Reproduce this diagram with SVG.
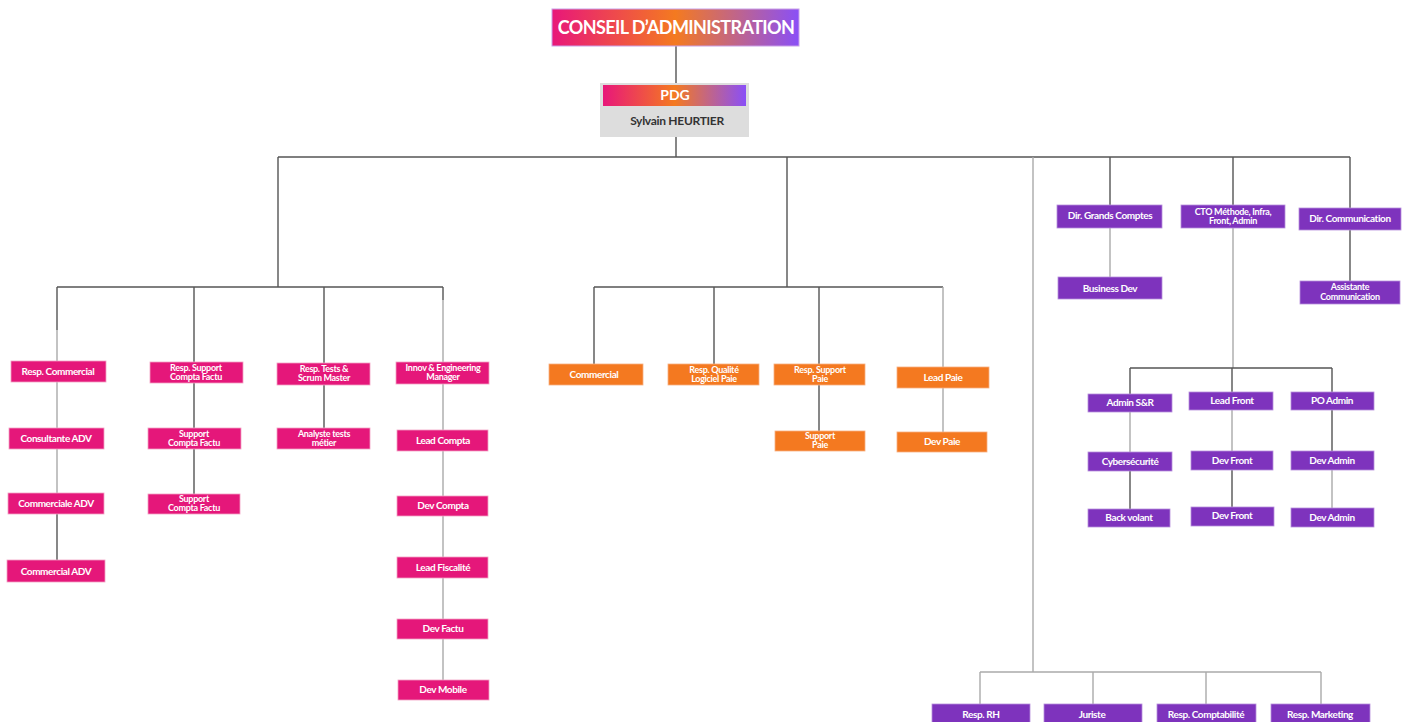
<svg xmlns="http://www.w3.org/2000/svg" width="1410" height="722" viewBox="0 0 1410 722">
<defs>
<linearGradient id="grad" x1="0" y1="0" x2="1" y2="0">
<stop offset="0" stop-color="#e8177a"/>
<stop offset="0.5" stop-color="#f47a20"/>
<stop offset="1" stop-color="#8a4ff7"/>
</linearGradient>
<style>
.pk{fill:#e5177a;stroke:#f3a0c4;stroke-width:0.8}
.or{fill:#f47920;stroke:#f8b080;stroke-width:0.8}
.pu{fill:#7e33bd;stroke:#b790dc;stroke-width:0.8}
text{font-family:Lato,"Liberation Sans",sans-serif;font-weight:bold;text-anchor:middle}
.t{fill:#ffffff;font-size:10px;letter-spacing:-0.4px}
.t2{fill:#ffffff;font-size:9px;letter-spacing:-0.3px}
.d{stroke:#555555;stroke-width:1.4;fill:none}
.l{stroke:#aaaaaa;stroke-width:1.4;fill:none}
</style>
</defs>
<rect width="1410" height="722" fill="#ffffff"/>
<g id="connectors">
<path class="d" d="M676 46V83M676 137V157M278 157H1350M278 157V287M787 157V287M1110 157V206M1233 157V206M1350 157V208"/>
<path class="l" d="M1033 157V672"/>
<path class="d" d="M57 287H443M57 287V330M194 287V494M324 287V428M443 287V300"/>
<path class="l" d="M57 330V493M443 300V680"/>
<path class="d" d="M57 514V560"/>
<path class="d" d="M594 287H943M594 287V364M714 287V364M819 287V431"/>
<path class="l" d="M943 287V432"/>
<path class="l" d="M1110 228V277"/>
<path class="d" d="M1350 230V281"/>
<path class="l" d="M1233 228V368"/>
<path class="d" d="M1130 368H1332M1130 368V394M1232 368V392M1332 368V451"/>
<path class="l" d="M1130 412V452M1232 410V451M1332 470V508"/>
<path class="d" d="M1130 471V509M1232 470V507"/>
<path class="l" d="M980 672H1321M980 672V704M1093 672V704M1206 672V704M1321 672V704"/>
</g>
<g id="conseil">
<rect x="552" y="9" width="247" height="37" fill="url(#grad)" stroke="#c9a0e8" stroke-width="1"/>
<text x="676" y="34" fill="#ffffff" font-size="18" letter-spacing="-0.6">CONSEIL D’ADMINISTRATION</text>
</g>
<g id="pdg">
<rect x="600" y="83" width="149" height="54" fill="#dddddd"/>
<rect x="603" y="85" width="143" height="21" fill="url(#grad)"/>
<text x="675" y="100" fill="#ffffff" font-size="14">PDG</text>
<text x="677" y="125" fill="#333333" font-size="12" letter-spacing="-0.3">Sylvain HEURTIER</text>
</g>
<g id="resp-commercial"><rect class="pk" x="11" y="361" width="95" height="21"/><text class="t" x="58" y="375">Resp. Commercial</text></g>
<g id="consultante-adv"><rect class="pk" x="9" y="428" width="95" height="21"/><text class="t" x="56" y="442">Consultante ADV</text></g>
<g id="commerciale-adv"><rect class="pk" x="8" y="493" width="96" height="21"/><text class="t" x="56" y="507">Commerciale ADV</text></g>
<g id="commercial-adv"><rect class="pk" x="7" y="560" width="98" height="22"/><text class="t" x="56" y="575">Commercial ADV</text></g>
<g id="resp-support-compta"><rect class="pk" x="150" y="362" width="93" height="21"/><text class="t2" x="196" y="371">Resp. Support</text><text class="t2" x="196" y="380">Compta Factu</text></g>
<g id="support-compta-1"><rect class="pk" x="148" y="428" width="93" height="21"/><text class="t2" x="194" y="437">Support</text><text class="t2" x="194" y="446">Compta Factu</text></g>
<g id="support-compta-2"><rect class="pk" x="148" y="494" width="92" height="20"/><text class="t2" x="194" y="502">Support</text><text class="t2" x="194" y="511">Compta Factu</text></g>
<g id="resp-tests"><rect class="pk" x="277" y="363" width="93" height="22"/><text class="t2" x="324" y="372">Resp. Tests  &amp;</text><text class="t2" x="324" y="381">Scrum Master</text></g>
<g id="analyste-tests"><rect class="pk" x="277" y="428" width="93" height="21"/><text class="t2" x="324" y="437">Analyste tests</text><text class="t2" x="324" y="446">métier</text></g>
<g id="innov-manager"><rect class="pk" x="396" y="362" width="93" height="22"/><text class="t2" x="443" y="371">Innov &amp; Engineering</text><text class="t2" x="443" y="380">Manager</text></g>
<g id="lead-compta"><rect class="pk" x="397" y="430" width="91" height="21"/><text class="t" x="443" y="444">Lead Compta</text></g>
<g id="dev-compta"><rect class="pk" x="397" y="496" width="91" height="20"/><text class="t" x="443" y="509">Dev Compta</text></g>
<g id="lead-fiscalite"><rect class="pk" x="397" y="557" width="91" height="21"/><text class="t" x="443" y="571">Lead Fiscalité</text></g>
<g id="dev-factu"><rect class="pk" x="397" y="619" width="91" height="20"/><text class="t" x="443" y="632">Dev Factu</text></g>
<g id="dev-mobile"><rect class="pk" x="398" y="680" width="91" height="20"/><text class="t" x="443" y="693">Dev Mobile</text></g>
<g id="commercial"><rect class="or" x="549" y="364" width="94" height="21"/><text class="t" x="594" y="378">Commercial</text></g>
<g id="resp-qualite"><rect class="or" x="668" y="364" width="91" height="21"/><text class="t2" x="714" y="373">Resp. Qualité</text><text class="t2" x="714" y="382">Logiciel Paie</text></g>
<g id="resp-support-paie"><rect class="or" x="774" y="364" width="91" height="21"/><text class="t2" x="820" y="373">Resp. Support</text><text class="t2" x="820" y="382">Paie</text></g>
<g id="lead-paie"><rect class="or" x="897" y="367" width="92" height="21"/><text class="t" x="943" y="381">Lead Paie</text></g>
<g id="support-paie"><rect class="or" x="775" y="431" width="90" height="20"/><text class="t2" x="820" y="439">Support</text><text class="t2" x="820" y="448">Paie</text></g>
<g id="dev-paie"><rect class="or" x="897" y="432" width="90" height="20"/><text class="t" x="942" y="445">Dev Paie</text></g>
<g id="dir-grands-comptes"><rect class="pu" x="1057" y="205" width="105" height="23"/><text class="t" x="1110" y="219">Dir. Grands Comptes</text></g>
<g id="business-dev"><rect class="pu" x="1058" y="277" width="104" height="22"/><text class="t" x="1110" y="292">Business Dev</text></g>
<g id="cto"><rect class="pu" x="1181" y="205" width="104" height="23"/><text class="t2" x="1233" y="215">CTO  Méthode, Infra,</text><text class="t2" x="1233" y="224">Front, Admin</text></g>
<g id="dir-communication"><rect class="pu" x="1299" y="208" width="102" height="22"/><text class="t" x="1350" y="222">Dir. Communication</text></g>
<g id="assistante-communication"><rect class="pu" x="1300" y="281" width="100" height="23"/><text class="t2" x="1350" y="290">Assistante</text><text class="t2" x="1350" y="300">Communication</text></g>
<g id="admin-sr"><rect class="pu" x="1088" y="394" width="84" height="18"/><text class="t" x="1130" y="406">Admin S&amp;R</text></g>
<g id="lead-front"><rect class="pu" x="1189" y="392" width="84" height="18"/><text class="t" x="1232" y="404">Lead Front</text></g>
<g id="po-admin"><rect class="pu" x="1291" y="392" width="83" height="18"/><text class="t" x="1332" y="404">PO Admin</text></g>
<g id="cybersecurite"><rect class="pu" x="1088" y="452" width="84" height="19"/><text class="t" x="1130" y="465">Cybersécurité</text></g>
<g id="dev-front-1"><rect class="pu" x="1191" y="451" width="82" height="19"/><text class="t" x="1232" y="464">Dev Front</text></g>
<g id="dev-admin-1"><rect class="pu" x="1291" y="451" width="83" height="19"/><text class="t" x="1332" y="464">Dev Admin</text></g>
<g id="back-volant"><rect class="pu" x="1088" y="509" width="82" height="18"/><text class="t" x="1129" y="521">Back volant</text></g>
<g id="dev-front-2"><rect class="pu" x="1191" y="507" width="83" height="19"/><text class="t" x="1232" y="519">Dev Front</text></g>
<g id="dev-admin-2"><rect class="pu" x="1291" y="508" width="83" height="19"/><text class="t" x="1332" y="521">Dev Admin</text></g>
<g id="resp-rh"><rect class="pu" x="932" y="704" width="98" height="20"/><text class="t" x="981" y="718">Resp.  RH</text></g>
<g id="juriste"><rect class="pu" x="1044" y="704" width="98" height="20"/><text class="t" x="1092" y="718">Juriste</text></g>
<g id="resp-comptabilite"><rect class="pu" x="1157" y="704" width="99" height="20"/><text class="t" x="1206" y="718">Resp. Comptabilité</text></g>
<g id="resp-marketing"><rect class="pu" x="1271" y="704" width="99" height="20"/><text class="t" x="1320" y="718">Resp. Marketing</text></g>
</svg>
